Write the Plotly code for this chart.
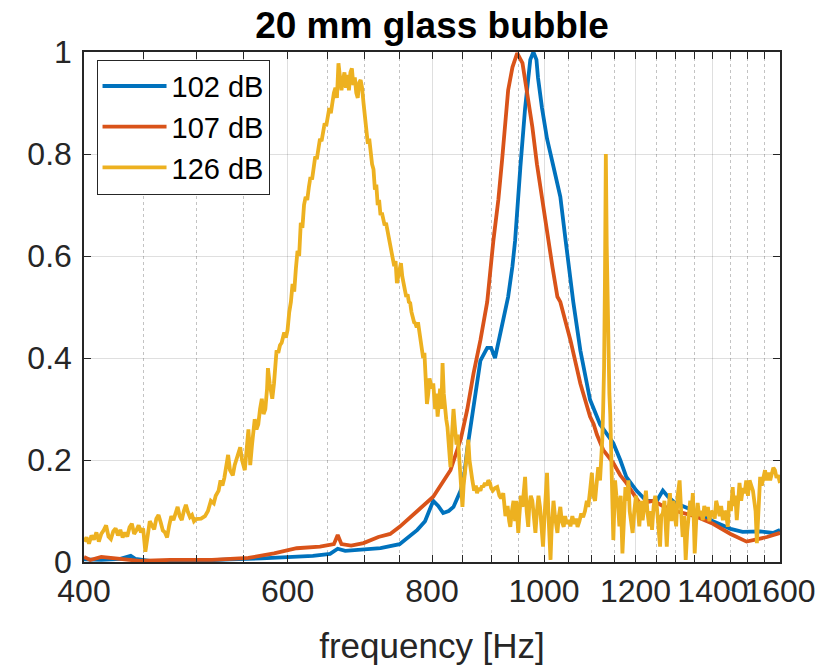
import plotly.graph_objects as go

# ---- data ----
freq_102 = [400, 414, 430, 439, 443, 456, 484, 504, 535, 570, 600, 631, 653, 663, 673, 694, 722, 750,
            777, 789, 797, 802, 810, 818, 827, 835, 847, 853, 858, 869, 881, 893, 900, 907, 917, 924,
            931, 939, 944, 954, 963, 973, 979, 985, 988, 996, 1006, 1019, 1033, 1044, 1054, 1060, 1075,
            1096, 1118, 1148, 1164, 1178, 1202, 1226, 1252, 1267, 1280, 1300, 1350, 1400, 1450, 1485,
            1538, 1578, 1600]
amp_102 = [0.005, 0.004, 0.006, 0.012, 0.006, 0.002, 0.001, 0.003, 0.005, 0.007, 0.010, 0.012, 0.016,
           0.026, 0.022, 0.025, 0.027, 0.035, 0.063, 0.080, 0.105, 0.120, 0.110, 0.096, 0.100, 0.108,
           0.140, 0.170, 0.220, 0.310, 0.395, 0.420, 0.420, 0.400, 0.450, 0.490, 0.520, 0.580, 0.630,
           0.775, 0.890, 0.985, 1.000, 0.985, 0.950, 0.890, 0.830, 0.775, 0.716, 0.630, 0.553, 0.510,
           0.415, 0.318, 0.270, 0.233, 0.200, 0.167, 0.140, 0.120, 0.120, 0.140, 0.128, 0.115, 0.100,
           0.080, 0.065, 0.059, 0.060, 0.057, 0.063]

freq_107 = [400, 405, 414, 422, 430, 447, 475, 516, 555, 584, 611, 640, 658, 663, 668, 681, 698, 719,
            736, 750, 777, 802, 830, 847, 858, 869, 881, 893, 904, 913, 920, 926, 931, 939, 948, 958,
            967, 977, 986, 996, 1006, 1017, 1027, 1033, 1054, 1075, 1096, 1104, 1111, 1125, 1148, 1164,
            1178, 1210, 1243, 1267, 1300, 1350, 1400, 1450, 1497, 1559, 1600]
amp_107 = [0.010, 0.004, 0.010, 0.008, 0.006, 0.002, 0.004, 0.004, 0.008, 0.017, 0.027, 0.030, 0.035,
           0.053, 0.035, 0.032, 0.037, 0.049, 0.055, 0.069, 0.100, 0.128, 0.180, 0.240, 0.298, 0.370,
           0.435, 0.510, 0.630, 0.710, 0.790, 0.860, 0.925, 0.970, 0.998, 0.978, 0.920, 0.853, 0.780,
           0.710, 0.645, 0.578, 0.520, 0.510, 0.435, 0.350, 0.285, 0.270, 0.250, 0.220, 0.194, 0.170,
           0.155, 0.115, 0.120, 0.110, 0.100, 0.090, 0.075, 0.055, 0.040, 0.049, 0.057]

freq_126 = [
    400, 402, 404, 406, 408, 410, 412, 414, 416, 418, 420, 422, 424, 426, 428, 430, 432, 434, 436, 438,
    440, 442, 444, 446, 448, 450, 452, 454, 456, 458, 460, 462, 464, 466, 468, 470, 472, 474, 476, 478,
    480, 482, 484, 486, 488, 490, 492, 494, 496, 498, 500,
    505, 509, 512, 515, 518, 520, 523, 525, 527, 529, 531, 533, 535, 538, 540, 542, 544, 546, 548, 551,
    553, 555, 556, 557, 559, 560, 562, 564, 566, 568, 570, 572, 574, 576, 577, 579, 582, 584, 585, 587,
    589, 591, 593, 596, 598, 600,
    602, 604, 606, 608, 610, 612, 614, 616, 618, 620, 622, 624, 626, 628, 630, 632, 634, 636, 638, 640,
    642, 644, 646, 648, 650, 652, 654, 656, 658, 660, 662, 664, 666, 668, 670, 672, 674, 676, 678, 680,
    682, 684, 686, 688, 690, 692, 694, 696, 698, 700,
    702, 704, 706, 708, 710, 712, 714, 716, 718, 720, 722, 724, 726, 728, 730, 732, 734, 736, 738, 740,
    742, 744, 746, 748, 750, 752, 754, 756, 758, 760, 762, 764, 766, 768, 770, 772, 774, 776, 778, 780,
    782, 784, 786, 788, 790, 792, 794, 796, 798, 800,
    802, 805, 807, 809, 811, 813, 815, 817, 819, 821, 823, 825, 827, 830, 832, 835, 837, 840, 842, 845,
    847, 850, 852, 855, 857, 860, 862, 865, 867, 870, 873, 875, 878, 881, 884, 886, 889, 892, 895, 898,
    900, 903, 907, 911, 915, 918, 922, 926, 930, 933, 935, 938, 941, 944, 946, 948, 950, 952, 955, 958,
    960, 963, 966, 969, 971, 974, 977, 980, 983, 986, 989, 992, 995, 998, 1001, 1004, 1006, 1009, 1011,
    1013, 1015, 1017, 1019, 1022, 1025, 1027, 1030, 1033, 1036, 1040, 1043, 1046, 1050, 1054, 1058, 1062,
    1066, 1069, 1073, 1077, 1081, 1085, 1089, 1092, 1096, 1100, 1103, 1107, 1110, 1114, 1118, 1121, 1123,
    1125, 1127, 1129, 1131, 1133, 1136, 1139, 1141, 1144, 1146, 1148, 1150, 1152, 1155, 1159, 1162, 1165,
    1169, 1172, 1176, 1180, 1183, 1186, 1190, 1193, 1197, 1201, 1205, 1209, 1213, 1217, 1221, 1225, 1229,
    1233, 1237, 1240, 1244, 1248, 1252, 1256, 1260, 1263, 1267, 1271, 1274, 1277, 1281, 1285, 1289, 1293,
    1297, 1301, 1305, 1310, 1314, 1318, 1322, 1326, 1330, 1334, 1338, 1341, 1345, 1348, 1350, 1354, 1358,
    1362, 1367, 1372, 1376, 1381, 1386, 1390, 1395, 1400, 1405, 1409, 1414, 1419, 1423, 1428, 1433, 1437,
    1442, 1446, 1451, 1456, 1460, 1464, 1468, 1472, 1476, 1481, 1486, 1491, 1496, 1501, 1506, 1511, 1516,
    1520, 1524, 1528, 1532, 1535, 1538, 1543, 1548, 1553, 1558, 1564, 1569, 1574, 1579, 1584, 1589, 1594,
    1600]
amp_126 = [
    0.040, 0.048, 0.036, 0.052, 0.044, 0.058, 0.040, 0.055, 0.062, 0.072, 0.050, 0.045, 0.060, 0.066,
    0.052, 0.063, 0.048, 0.058, 0.050, 0.068, 0.075, 0.055, 0.062, 0.072, 0.058, 0.066, 0.020, 0.050,
    0.080, 0.072, 0.064, 0.085, 0.092, 0.078, 0.062, 0.058, 0.048, 0.072, 0.090, 0.082, 0.095, 0.108,
    0.090, 0.082, 0.100, 0.112, 0.098, 0.088, 0.092, 0.080, 0.084,
    0.085, 0.090, 0.100, 0.120, 0.115, 0.130, 0.140, 0.160, 0.150, 0.165, 0.190, 0.210, 0.180, 0.170,
    0.190, 0.200, 0.215, 0.225, 0.200, 0.180, 0.220, 0.260, 0.230, 0.190, 0.230, 0.250, 0.280, 0.260,
    0.270, 0.300, 0.320, 0.290, 0.300, 0.340, 0.380, 0.350, 0.320, 0.350, 0.370, 0.415, 0.410, 0.425,
    0.430, 0.450, 0.440, 0.455,
    0.490, 0.510, 0.545, 0.530, 0.575, 0.610, 0.600, 0.665, 0.655, 0.700, 0.716, 0.710, 0.735, 0.755,
    0.750, 0.780, 0.795, 0.790, 0.815, 0.830, 0.825, 0.850, 0.860, 0.855, 0.875, 0.890, 0.880, 0.905,
    0.920, 0.930, 0.910, 0.978, 0.940, 0.925, 0.945, 0.960, 0.930, 0.955, 0.925, 0.960, 0.968, 0.935,
    0.950, 0.920, 0.910, 0.940, 0.945, 0.930, 0.900, 0.873,
    0.850, 0.820, 0.830, 0.800, 0.780, 0.770, 0.730, 0.740, 0.700, 0.710, 0.680, 0.685, 0.670, 0.660,
    0.665, 0.650, 0.640, 0.620, 0.615, 0.600, 0.580, 0.590, 0.547, 0.560, 0.575, 0.586, 0.560, 0.540,
    0.533, 0.520, 0.525, 0.510, 0.508, 0.490, 0.480, 0.470, 0.468, 0.460, 0.470, 0.455, 0.440, 0.420,
    0.400, 0.410, 0.370, 0.310, 0.330, 0.360, 0.350, 0.340,
    0.350, 0.300, 0.330, 0.285, 0.310, 0.340, 0.300, 0.390, 0.330, 0.300, 0.280, 0.265, 0.220, 0.186,
    0.240, 0.300, 0.270, 0.230, 0.250, 0.200, 0.167, 0.108, 0.150, 0.186, 0.210, 0.240, 0.200, 0.170,
    0.160, 0.140, 0.150, 0.135, 0.145, 0.140, 0.150, 0.147, 0.155, 0.150, 0.160, 0.155,
    0.145, 0.140, 0.145, 0.147, 0.130, 0.125, 0.135, 0.090, 0.110, 0.080, 0.069, 0.100, 0.120, 0.080,
    0.120, 0.090, 0.057, 0.090, 0.130, 0.108, 0.140, 0.167, 0.100, 0.069, 0.110, 0.130, 0.120, 0.085,
    0.057, 0.100, 0.130, 0.108, 0.070, 0.030, 0.090, 0.140, 0.175, 0.090, 0.030, 0.004, 0.060, 0.100,
    0.120, 0.090, 0.070, 0.057, 0.090, 0.108, 0.080, 0.069, 0.090, 0.075, 0.082, 0.070, 0.090, 0.075,
    0.085, 0.069, 0.080, 0.095, 0.088, 0.100, 0.120, 0.108, 0.140, 0.175, 0.130, 0.120, 0.150, 0.186,
    0.160, 0.200, 0.240, 0.300, 0.380, 0.550, 0.800, 0.620, 0.420, 0.330, 0.290, 0.200, 0.120, 0.043,
    0.100, 0.160, 0.130, 0.108, 0.070, 0.130, 0.017, 0.090, 0.147, 0.120, 0.160, 0.100, 0.080, 0.057,
    0.100, 0.130, 0.108, 0.070, 0.120, 0.082, 0.110, 0.140, 0.096, 0.070, 0.100, 0.063, 0.110, 0.130,
    0.108, 0.070, 0.030, 0.090, 0.096, 0.120, 0.060, 0.030, 0.100, 0.135, 0.080, 0.120, 0.096, 0.070,
    0.130, 0.160, 0.100, 0.049, 0.090, 0.004, 0.060, 0.096, 0.120, 0.090, 0.135, 0.070, 0.017, 0.080,
    0.116, 0.090, 0.100, 0.082, 0.110, 0.090, 0.108, 0.080, 0.100, 0.096, 0.085, 0.120, 0.108, 0.090,
    0.110, 0.082, 0.100, 0.095, 0.069, 0.120, 0.100, 0.147, 0.110, 0.130, 0.082, 0.120, 0.155, 0.120,
    0.145, 0.135, 0.160, 0.130, 0.160, 0.150, 0.140, 0.120, 0.100, 0.037, 0.100, 0.150, 0.167, 0.150,
    0.170, 0.180, 0.160, 0.175, 0.160, 0.170, 0.185, 0.180, 0.165, 0.170, 0.155]

series = [
    ("102 dB", freq_102, amp_102, "#0072BD"),
    ("107 dB", freq_107, amp_107, "#D95319"),
    ("126 dB", freq_126, amp_126, "#EDB120"),
]

x_tick_vals = [400, 600, 800, 1000, 1200, 1400, 1600]
x_tick_text = ["400", "600", "800", "1000", "1200", "1400", "1600"]
x_minor_vals = [450, 500, 550, 650, 700, 750, 850, 900, 950, 1050, 1100, 1150,
                1250, 1300, 1350, 1450, 1500, 1550]
y_tick_vals = [0, 0.2, 0.4, 0.6, 0.8, 1.0]
y_tick_text = ["0", "0.2", "0.4", "0.6", "0.8", "1"]

# ---- figure ----
fig = go.Figure()
for name, fx, fy, col in series:
    fig.add_trace(go.Scatter(x=fx, y=fy, mode="lines", name=name,
                             line=dict(color=col, width=3.8)))

FONT = "Liberation Sans, Arial, Helvetica, sans-serif"
AX = "#262626"
GRID = "rgba(38,38,38,0.15)"

# the page body adds an 8 px margin, so the figure is 8 px smaller on each axis
W, H = 830, 659
fig.update_layout(
    width=W, height=H,
    margin=dict(l=76, r=58, t=44, b=105, autoexpand=False),
    paper_bgcolor="white", plot_bgcolor="white",
    font=dict(family=FONT, size=32, color=AX),
    title=dict(text="<b>20 mm glass bubble</b>", x=0.5, xref="paper", xanchor="center",
               y=1 - 17 / H, yref="container", yanchor="middle",
               font=dict(family=FONT, size=37, color="black")),
    showlegend=True,
    legend=dict(x=0.018, y=0.985, xanchor="left", yanchor="top",
                bgcolor="white", bordercolor=AX, borderwidth=1,
                font=dict(family=FONT, size=29, color="black"),
                itemwidth=64, tracegroupgap=0),
)

fig.update_xaxes(
    type="log", range=[2.60206, 3.20412], automargin=False,
    tickmode="array", tickvals=x_tick_vals, ticktext=x_tick_text, tickangle=0,
    ticks="inside", ticklen=7, tickwidth=1, tickcolor=AX,
    showline=True, linecolor=AX, linewidth=1.5, mirror="ticks",
    showgrid=True, gridcolor=GRID, gridwidth=1,
    minor=dict(tickmode="array", tickvals=x_minor_vals, ticks="inside", ticklen=7,
               tickcolor=AX, showgrid=True, gridcolor="rgba(38,38,38,0.28)",
               griddash="dot", gridwidth=1),
    title=dict(text="frequency [Hz]", font=dict(family=FONT, size=35, color=AX), standoff=25),
    tickfont=dict(family=FONT, size=32, color=AX),
    zeroline=False,
)
fig.update_yaxes(
    range=[0, 1], automargin=False,
    tickmode="array", tickvals=y_tick_vals, ticktext=y_tick_text,
    ticks="inside", ticklen=7, tickwidth=1, tickcolor=AX,
    showline=True, linecolor=AX, linewidth=1.5, mirror="ticks",
    showgrid=True, gridcolor=GRID, gridwidth=1,
    tickfont=dict(family=FONT, size=32, color=AX),
    ticklabelstandoff=4,
    zeroline=False,
)

fig.write_html("out.html")
